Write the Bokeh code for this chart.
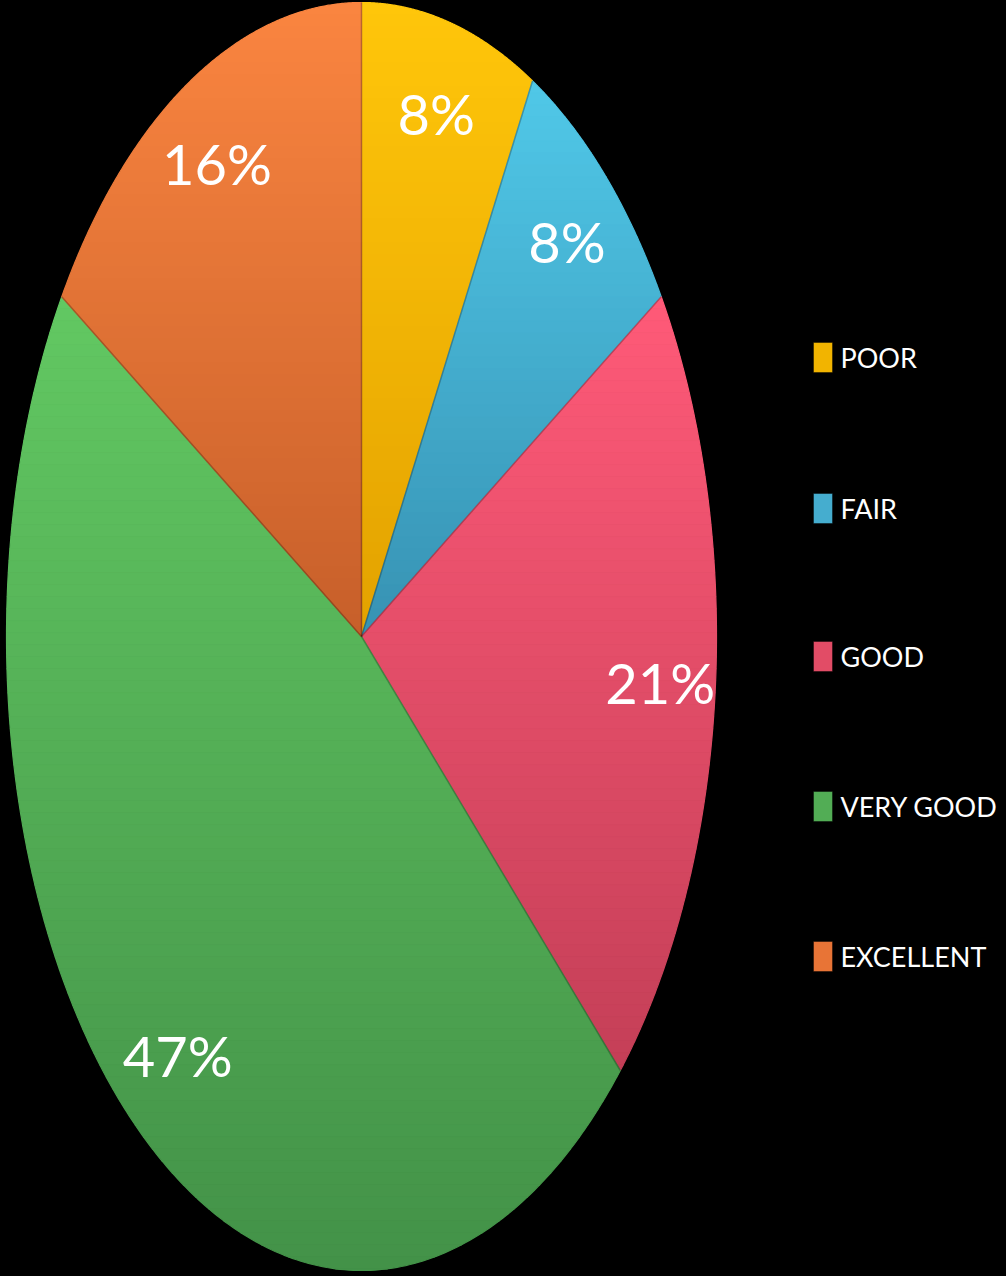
import numpy as np
from bokeh.plotting import figure
from bokeh.models import Range1d, ColumnDataSource, GlobalInlineStyleSheet
from bokeh.core.properties import value
from bokeh.embed import file_html
from bokeh.resources import INLINE

# ---- data ----
categories = ["POOR", "FAIR", "GOOD", "VERY GOOD", "EXCELLENT"]
values = [8, 8, 21, 47, 16]
labels = [f"{v}%" for v in values]

# ---- style ----
light_colors = ["#FFC60A", "#50C8E8", "#FF5A78", "#62C862", "#FA8540"]
dark_colors = ["#E3A200", "#3792B3", "#C43F57", "#439248", "#C75F2A"]
legend_colors = ["#F2B400", "#45ADCF", "#E24C66", "#52AD55", "#E87436"]
FONT = "Lato"

# geometry in reference pixel coordinates
cx, cy, rx, ry = 361.0, 636.0, 355.0, 634.0

W, H = 1006, 1276
p = figure(width=W, height=H, output_backend="svg", toolbar_location=None,
           x_range=Range1d(0, W), y_range=Range1d(H, 0),
           min_border=0)
p.axis.visible = False
p.grid.visible = False
p.outline_line_color = None
p.background_fill_color = "#000000"
p.border_fill_color = "#000000"
p.stylesheets = [GlobalInlineStyleSheet(css="html, body { background: #000000; overflow: hidden; }")]


def hex2rgb(h):
    h = h.lstrip("#")
    return np.array([int(h[i:i + 2], 16) for i in (0, 2, 4)], dtype=float)


def rgb2hex(c):
    c = np.clip(np.round(c), 0, 255).astype(int)
    return "#%02x%02x%02x" % tuple(c)


def clip_half(pts, yv, keep_above):
    out = []
    n = len(pts)
    for i in range(n):
        a = pts[i]
        b = pts[(i + 1) % n]
        ina = a[1] >= yv if keep_above else a[1] <= yv
        inb = b[1] >= yv if keep_above else b[1] <= yv
        if ina:
            out.append(a)
        if ina != inb:
            t = (yv - a[1]) / (b[1] - a[1])
            out.append((a[0] + t * (b[0] - a[0]), yv))
    return out


total = float(sum(values))
fracs = np.array(values) / total
ends = np.cumsum(fracs) * 2 * np.pi
starts = ends - fracs * 2 * np.pi

band = 12.0
band_xs, band_ys, band_cols = [], [], []
for i in range(len(values)):
    th = np.linspace(starts[i], ends[i], 240)
    px = np.concatenate([[cx], cx + rx * np.sin(th)])
    py = np.concatenate([[cy], cy - ry * np.cos(th)])
    pts = list(zip(px, py))
    y_lo, y_hi = py.min(), py.max()
    c0, c1 = hex2rgb(light_colors[i]), hex2rgb(dark_colors[i])
    yb = y_lo
    while yb < y_hi:
        ye = min(yb + band, y_hi)
        poly = clip_half(pts, yb, True)
        if poly:
            poly = clip_half(poly, ye, False)
        if len(poly) >= 3:
            t = ((yb + ye) / 2 - y_lo) / max(y_hi - y_lo, 1)
            band_xs.append([q[0] for q in poly])
            band_ys.append([q[1] for q in poly])
            band_cols.append(rgb2hex(c0 + (c1 - c0) * t))
        yb = ye

p.patches(xs=band_xs, ys=band_ys, fill_color=band_cols, line_color=band_cols,
          line_width=1.2)

# subtle slice edges
for i in range(len(values)):
    a = starts[i]
    p.line(x=[cx, cx + rx * np.sin(a)], y=[cy, cy - ry * np.cos(a)],
           line_color="#000000", line_alpha=0.25, line_width=1.5)

# percentage labels along bisectors
mid = (starts + ends) / 2
lf = 0.845
lsrc = ColumnDataSource(dict(x=cx + rx * lf * np.sin(mid),
                             y=cy - ry * lf * np.cos(mid) - 4,
                             t=labels))
p.text(x="x", y="y", text="t", source=lsrc, text_color="#FFFFFF",
       text_font=value(FONT), text_font_size="56px",
       text_align="center", text_baseline="middle")

# legend
leg_y = [357, 508, 656, 806, 956]
lg = ColumnDataSource(dict(x=[822.5] * 5, y=leg_y, c=legend_colors,
                           tx=[840] * 5, t=categories))
p.rect(x="x", y="y", width=19, height=30, source=lg, fill_color="c",
       line_color="#000000", line_alpha=0.4, line_width=1)
p.text(x="tx", y="y", text="t", source=lg, text_color="#FFFFFF",
       text_font=value(FONT), text_font_size="27px",
       text_align="left", text_baseline="middle")

open("out.html", "w").write(file_html(p, INLINE))
